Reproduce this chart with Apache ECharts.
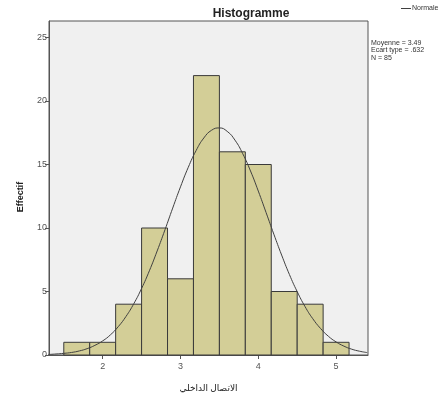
<!DOCTYPE html>
<html><head><meta charset="utf-8">
<script src="https://cdn.jsdelivr.net/npm/echarts@6/dist/echarts.min.js"></script>
<style>html,body{margin:0;padding:0;background:#fff}#c{width:445px;height:398px}</style>
</head><body><div id="c"></div>
<script>
// Histogram bins (edges) and counts
const binEdges = [1.5, 1.8333, 2.1667, 2.5, 2.8333, 3.1667, 3.5, 3.8333, 4.1667, 4.5, 4.8333, 5.1667];
const counts = [1, 1, 4, 10, 6, 22, 16, 15, 5, 4, 1];
// Normal curve (x, expected count)
const curveX = [1.3,1.4,1.5,1.6,1.7,1.8,1.9,2.0,2.1,2.2,2.3,2.4,2.5,2.6,2.7,2.8,2.9,3.0,3.1,3.2,3.3,3.4,3.5,3.6,3.7,3.8,3.9,4.0,4.1,4.2,4.3,4.4,4.5,4.6,4.7,4.8,4.9,5.0,5.1,5.2,5.3,5.4];
const curveY = [0.04,0.08,0.13,0.20,0.32,0.50,0.76,1.11,1.59,2.23,3.04,4.04,5.24,6.63,8.19,9.85,11.57,13.24,14.78,16.09,17.09,17.70,17.88,17.61,16.92,15.85,14.49,12.91,11.22,9.51,7.87,6.34,4.99,3.82,2.86,2.09,1.48,1.03,0.70,0.46,0.30,0.19];
const xTicks = [2, 3, 4, 5];
const yTicks = [0, 5, 10, 15, 20, 25];
const statsLines = ['Moyenne = 3.49', 'Ecart type = .632', 'N = 85'];

const barData = counts.map((c, i) => [binEdges[i], binEdges[i + 1], c]);
const lineData = curveX.map((x, i) => [x, curveY[i]]);

const chart = echarts.init(document.getElementById('c'));
const FONT = 'Liberation Sans, Arial, sans-serif';
const NARROW = '"Liberation Sans Narrow", "Arial Narrow", "Liberation Sans", sans-serif';
chart.setOption({
  animation: false,
  title: {
    text: 'Histogramme', left: 246, top: 3, textAlign: 'center',
    textStyle: { fontFamily: FONT, fontSize: 12, fontWeight: 'bold', color: '#222' }
  },
  legend: {
    data: [{ name: 'Normale', icon: 'rect' }],
    left: 401, top: 5, itemWidth: 10, itemHeight: 1, itemGap: 2, padding: 0,
    textStyle: { fontFamily: NARROW, fontSize: 7, color: '#333', padding: [0, 0, 0, -4] }
  },
  graphic: [{
    type: 'text', left: 371, top: 39,
    style: { text: statsLines.join('\n'), font: '7px ' + NARROW, fill: '#333', lineHeight: 7.5 }
  }, {
    type: 'text', x: 21, y: 197, rotation: Math.PI / 2,
    style: { text: 'Effectif', font: 'bold 9px ' + FONT, fill: '#222', align: 'center', verticalAlign: 'middle' }
  }],
  grid: {
    left: 49, right: 77, top: 21, bottom: 43,
    show: true, backgroundColor: '#F0F0F0', borderColor: '#555', borderWidth: 1
  },
  xAxis: {
    type: 'value', min: 1.31, max: 5.41,
    name: 'الاتصال الداخلي', nameLocation: 'middle', nameGap: 29,
    nameTextStyle: { fontFamily: 'Noto Sans, DejaVu Sans, sans-serif', fontSize: 9, color: '#222' },
    axisLine: { show: true, onZero: false, lineStyle: { color: '#555' } },
    axisTick: { show: true, length: 4, customValues: xTicks, lineStyle: { color: '#555' } },
    axisLabel: { customValues: xTicks, fontFamily: FONT, fontSize: 9, color: '#555', margin: 7 },
    splitLine: { show: false }
  },
  yAxis: {
    type: 'value', min: 0, max: 26.3,
    axisLine: { show: true, lineStyle: { color: '#555' } },
    axisTick: { show: true, length: 4, customValues: yTicks, lineStyle: { color: '#555' } },
    axisLabel: { customValues: yTicks, fontFamily: FONT, fontSize: 9, color: '#555', margin: 2 },
    splitLine: { show: false }
  },
  series: [{
    type: 'custom', name: 'bars',
    data: barData,
    encode: { x: [0, 1], y: 2 },
    renderItem: function (params, api) {
      const p0 = api.coord([api.value(0), api.value(2)]);
      const p1 = api.coord([api.value(1), 0]);
      return {
        type: 'rect',
        shape: { x: p0[0], y: p0[1], width: p1[0] - p0[0], height: p1[1] - p0[1] },
        style: { fill: '#D3CE97', stroke: '#3A3A3A', lineWidth: 1 }
      };
    },
    z: 2
  }, {
    type: 'line', name: 'Normale', data: lineData, smooth: true, showSymbol: false,
    lineStyle: { color: '#404040', width: 1 }, itemStyle: { color: '#404040' }, z: 3
  }]
});
</script></body></html>
